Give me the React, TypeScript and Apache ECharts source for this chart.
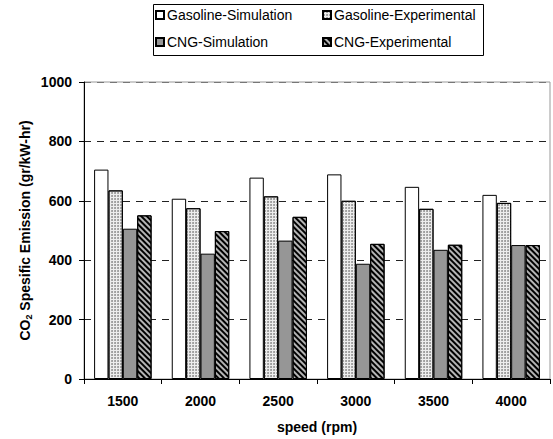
import React, { useEffect, useRef } from "react";
import * as echarts from "echarts";

const categories = ["1500", "2000", "2500", "3000", "3500", "4000"];
const gasolineSim = [705, 607, 678, 689, 647, 620];
const gasolineExp = [635, 575, 615, 600, 573, 593];
const cngSim = [506, 422, 466, 388, 435, 451];
const cngExp = [551, 498, 546, 455, 452, 451];
const yTicks = [0, 200, 400, 600, 800, 1000];

const FONT = "Liberation Sans, Arial, sans-serif";

export default function App() {
  const ref = useRef<HTMLDivElement>(null);
  useEffect(() => {
    const chart = echarts.init(ref.current!, null, { renderer: "svg" });
    const border = { borderColor: "#000", borderWidth: 1 };
    const legendBase = {
      orient: "vertical",
      top: 8,
      padding: 0,
      itemWidth: 8,
      itemHeight: 8,
      itemGap: 13,
      icon: "rect",
      textStyle: { fontSize: 14, color: "#000", fontFamily: FONT, padding: [0, 0, 0, -2] },
    };
    chart.setOption({
      animation: false,
      textStyle: { fontFamily: FONT },
      legend: [
        { ...legendBase, left: 155, data: ["Gasoline-Simulation", "CNG-Simulation"] },
        { ...legendBase, left: 322, data: ["Gasoline-Experimental", "CNG-Experimental"] },
      ],
      graphic: [
        {
          type: "rect",
          shape: { x: 153.5, y: 4.5, width: 330, height: 51 },
          style: { fill: "none", stroke: "#000", lineWidth: 1 },
          silent: true,
        },
      ],
      grid: {
        left: 84,
        right: 3,
        top: 82,
        bottom: 59,
        show: true,
        borderColor: "#999",
        borderWidth: 1,
        containLabel: false,
      },
      xAxis: {
        type: "category",
        data: categories,
        name: "speed (rpm)",
        nameLocation: "middle",
        nameGap: 41,
        nameMoveOverlap: false,
        nameTextStyle: { fontWeight: "bold", fontSize: 14, color: "#000", fontFamily: FONT },
        axisLine: { lineStyle: { color: "#000", width: 1 } },
        axisTick: { show: true, length: 5, lineStyle: { color: "#000" } },
        axisLabel: { fontWeight: "bold", fontSize: 14, color: "#000", margin: 15, fontFamily: FONT },
        splitLine: { show: false },
      },
      yAxis: {
        type: "value",
        min: 0,
        max: 1000,
        interval: 200,
        name: "CO{sub|2} Spesific Emission (gr/kW-hr)",
        nameLocation: "middle",
        nameGap: 51,
        nameMoveOverlap: false,
        nameRotate: 90,
        nameTextStyle: {
          fontWeight: "bold",
          fontSize: 14,
          color: "#000",
          fontFamily: FONT,
          rich: { sub: { fontSize: 9, fontWeight: "bold", verticalAlign: "bottom", padding: [7, 0, 0, 0] } },
        },
        axisLine: { show: true, lineStyle: { color: "#000", width: 1 } },
        axisTick: { show: true, length: 5, lineStyle: { color: "#000" } },
        axisLabel: {
          fontWeight: "bold",
          fontSize: 14,
          color: "#000",
          margin: 12,
          fontFamily: FONT,
          formatter: (v: number) => (yTicks.includes(v) ? String(v) : ""),
        },
        splitLine: {
          show: true,
          lineStyle: { color: ["#222", "#222", "#222", "#222", "#222", "#777"], type: [7, 6], width: 1 },
        },
      },
      series: [
        {
          name: "Gasoline-Simulation",
          type: "bar",
          data: gasolineSim,
          barGap: "0%",
          barCategoryGap: "26%",
          itemStyle: { color: "#fff", ...border },
        },
        {
          name: "Gasoline-Experimental",
          type: "bar",
          data: gasolineExp,
          barGap: "0%",
          barCategoryGap: "26%",
          itemStyle: {
            color: "#ededed",
            ...border,
            decal: {
              symbol: "circle",
              symbolSize: 0.9,
              dashArrayX: [2, 1],
              dashArrayY: [2, 1],
              rotation: 0,
              color: "#8a8a8a",
            },
          },
        },
        {
          name: "CNG-Simulation",
          type: "bar",
          data: cngSim,
          barGap: "0%",
          barCategoryGap: "26%",
          itemStyle: { color: "#969696", ...border },
        },
        {
          name: "CNG-Experimental",
          type: "bar",
          data: cngExp,
          barGap: "0%",
          barCategoryGap: "26%",
          itemStyle: {
            color: "#b4b4b4",
            ...border,
            decal: {
              symbol: "rect",
              symbolSize: 1,
              dashArrayX: [1, 0],
              dashArrayY: [2, 2],
              rotation: Math.PI / 4,
              color: "#000",
            },
          },
        },
      ],
    });
    return () => chart.dispose();
  }, []);
  return <div ref={ref} style={{ width: 553, height: 439, position: "absolute", left: 0, top: 0 }} />;
}
